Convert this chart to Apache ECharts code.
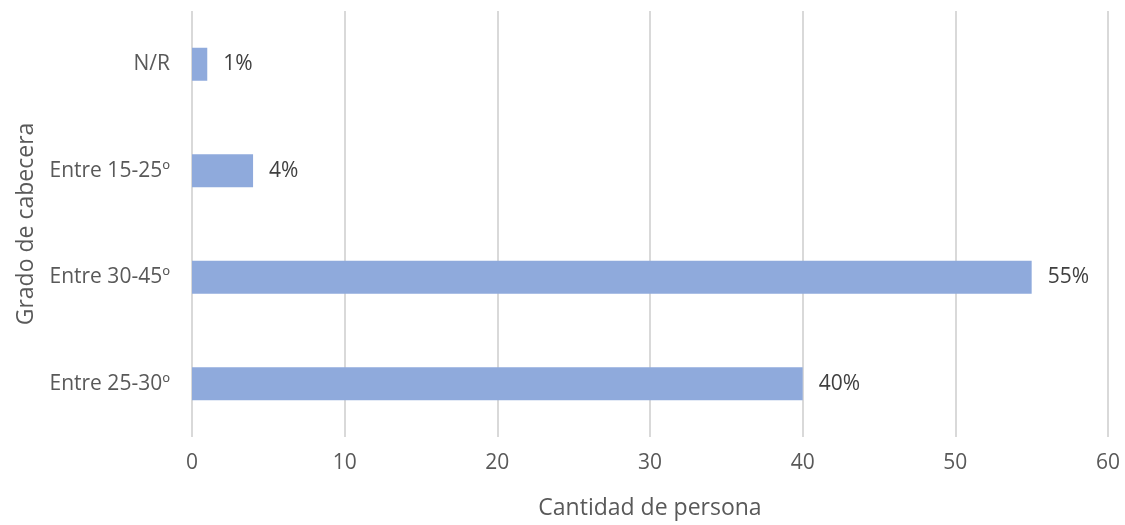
<!DOCTYPE html>
<html><head><meta charset="utf-8">
<script src="https://cdn.jsdelivr.net/npm/echarts@6/dist/echarts.min.js"></script>
<style>html,body{margin:0;padding:0;background:#fff}#c{width:1125px;height:525px}</style>
</head><body><div id="c"></div>
<script>
const categories = ['Entre 25-30º', 'Entre 30-45º', 'Entre 15-25º', 'N/R'];
const values = [40, 55, 4, 1];
const labels = ['40%', '55%', '4%', '1%'];
const xTicks = { min: 0, max: 60, interval: 10 };

const font = '"Open Sans", "Noto Sans", sans-serif';
const chart = echarts.init(document.getElementById('c'), null, { renderer: 'canvas' });
chart.setOption({
  backgroundColor: '#fff',
  animation: false,
  grid: { left: 192, right: 17, top: 11, bottom: 84 },
  xAxis: {
    type: 'value', min: xTicks.min, max: xTicks.max, interval: xTicks.interval,
    name: 'Cantidad de persona', nameLocation: 'middle', nameGap: 60,
    nameTextStyle: { color: '#595959', fontSize: 23, fontFamily: font },
    axisLine: { show: false }, axisTick: { show: false },
    axisLabel: { color: '#595959', fontSize: 21, fontFamily: font, margin: 16 },
    splitLine: { show: true, lineStyle: { color: '#d9d9d9', width: 2 } }
  },
  yAxis: {
    type: 'category', data: categories,
    name: 'Grado de cabecera', nameLocation: 'middle', nameGap: 154,
    nameTextStyle: { color: '#595959', fontSize: 23, fontFamily: font },
    axisLine: { show: false }, axisTick: { show: false },
    axisLabel: { color: '#595959', fontSize: 21, fontFamily: font, margin: 22 },
    splitLine: { show: false }
  },
  series: [{
    type: 'bar', data: values, barWidth: 33,
    itemStyle: { color: '#8faadc' },
    label: {
      show: true, position: 'right', distance: 16,
      color: '#404040', fontSize: 21, fontFamily: font,
      formatter: p => labels[p.dataIndex]
    }
  }]
});
</script></body></html>
